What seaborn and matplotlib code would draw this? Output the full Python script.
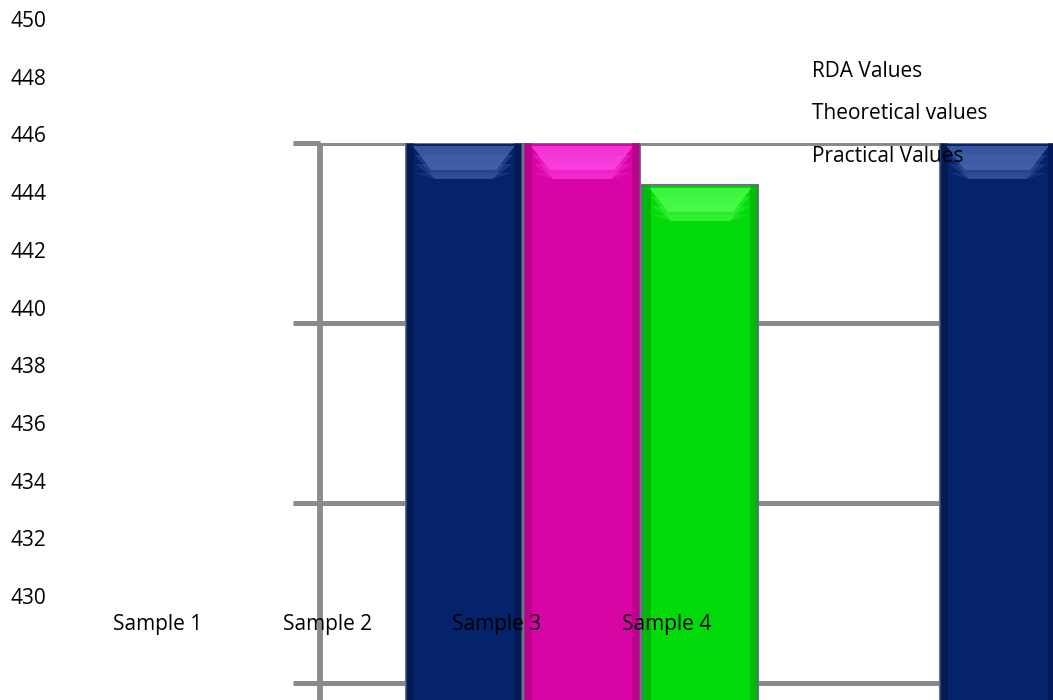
import numpy as np
import pandas as pd
import matplotlib
matplotlib.use('Agg')
import matplotlib.pyplot as plt
import seaborn as sns
from matplotlib.patches import Polygon, Rectangle

# 数据
samples = ['Sample 1', 'Sample 2', 'Sample 3', 'Sample 4']
series = ['RDA Values', 'Theoretical values', 'Practical Values']
rda_values = [446, 446, 446, 446]
theoretical_values = [446, 446, 446, 446]
practical_values = [444.6, 444.6, 444.6, 444.6]
axis_ticks = [430, 432, 434, 436, 438, 440, 442, 444, 446, 448, 450]

colors = ['#04236A', '#D904A4', '#03DA0B']
tops = ['#4A68B0', '#FF45E8', '#50FF50']
edges = ['#021445', '#A0007A', '#019A06']

df = pd.DataFrame({
    'sample': samples * 3,
    'series': [s for s in series for _ in samples],
    'value': rda_values + theoretical_values + practical_values,
})

sns.set_style('white')
plt.rcParams['font.family'] = ['Open Sans', 'DejaVu Sans']
plt.rcParams['text.color'] = 'black'

W, H = 1053, 700
fig = plt.figure(figsize=(W / 100, H / 100), dpi=100)

# 柱子所在的坐标轴
ax = fig.add_axes([320 / W, 0, (W - 320) / W, (H - 143) / H])
sns.barplot(data=df, x='sample', y='value', hue='series', palette=colors,
            saturation=1, width=0.665, gap=0.02, ax=ax, legend=True,
            edgecolor='#6e7388', linewidth=1.5)
ax.set_xlim(-0.491, 0.882)
ax.set_ylim(446 - 557 / 30, 446)
ax.set_yticks([428, 434, 440, 446])
ax.set_yticklabels([])
ax.set_xticks([])
ax.set_xlabel('')
ax.set_ylabel('')
ax.grid(axis='y', color='#8a8a8a', linewidth=3.6)
ax.set_axisbelow(True)
ax.tick_params(axis='y', left=True, length=19.5, width=3.6, color='#8a8a8a', direction='out')
for side in ['top', 'right', 'bottom']:
    ax.spines[side].set_visible(False)
ax.spines['left'].set_color('#8a8a8a')
ax.spines['left'].set_linewidth(4.2)
ax.spines['left'].set_capstyle('butt')
ax.patch.set_alpha(0)
handles, labels = ax.get_legend_handles_labels()
ax.get_legend().remove()

# 柱子的立体效果：两侧深色条和顶部高光
ybot = ax.get_ylim()[0] - 5
for i, cont in enumerate(ax.containers):
    for bar in cont:
        x0, w, h = bar.get_x(), bar.get_width(), bar.get_height()
        y_top = bar.get_y() + h
        z = bar.get_zorder()
        ax.add_patch(Rectangle((x0, ybot), w * 0.07, y_top - ybot,
                               color=edges[i], alpha=0.5, lw=0, zorder=z + 0.1))
        ax.add_patch(Rectangle((x0 + w * 0.93, ybot), w * 0.07, y_top - ybot,
                               color=edges[i], alpha=0.5, lw=0, zorder=z + 0.1))
        for k, a in enumerate([0.55, 0.45, 0.35]):
            d = 0.25 + 0.3 * k
            poly = Polygon([[x0 + w * 0.08, y_top - 0.15 - d],
                            [x0 + w * 0.92, y_top - 0.15 - d],
                            [x0 + w * 0.75, y_top - 1.2],
                            [x0 + w * 0.25, y_top - 1.2]],
                           closed=True, color=tops[i], alpha=a * 0.6, lw=0,
                           zorder=z + 0.2)
            ax.add_patch(poly)
        ax.add_patch(Polygon([[x0 + w * 0.06, y_top - 0.1],
                              [x0 + w * 0.94, y_top - 0.1],
                              [x0 + w * 0.78, y_top - 0.9],
                              [x0 + w * 0.22, y_top - 0.9]],
                             closed=True, color=tops[i], alpha=0.75, lw=0,
                             zorder=z + 0.3))

# 坐标文字所在的透明坐标轴
ax2 = fig.add_axes([60 / W, (H - 596) / H, (W - 60) / W, (596 - 19) / H])
ax2.patch.set_alpha(0)
ax2.set_ylim(430, 450)
ax2.set_yticks(axis_ticks)
ax2.set_xlim((60 - 157.5) / 169.6, (W - 157.5) / 169.6)
ax2.set_xticks(range(len(samples)))
ax2.set_xticklabels(samples)
ax2.tick_params(axis='both', length=0, labelsize=15, labelcolor='black')
ax2.tick_params(axis='y', pad=10)
ax2.tick_params(axis='x', pad=13)
for side in ax2.spines:
    ax2.spines[side].set_visible(False)

leg = ax2.legend(handles, labels, loc='upper left', bbox_to_anchor=(812 / W, 1 - 61 / H),
                 bbox_transform=fig.transFigure, frameon=False, fontsize=15,
                 handlelength=0, handletextpad=0, labelspacing=1.02, borderpad=0,
                 borderaxespad=0, labelcolor='black')
for hd in leg.legend_handles:
    hd.set_visible(False)

fig.savefig('out.png', dpi=100)
